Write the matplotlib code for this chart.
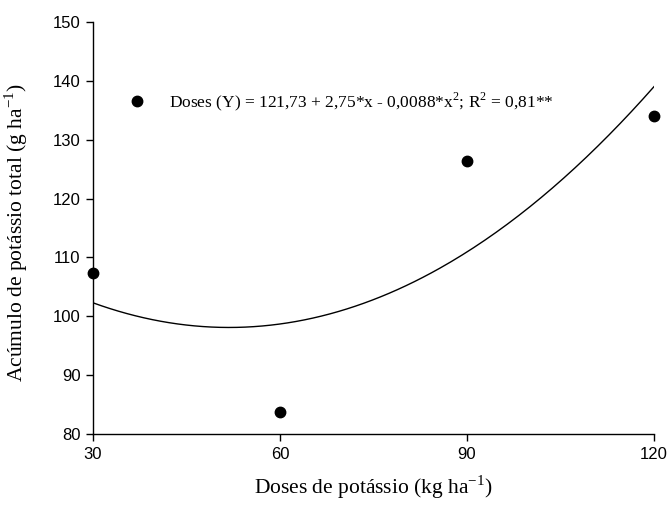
import numpy as np
import matplotlib
matplotlib.use("Agg")
import matplotlib.pyplot as plt

# dados
doses = [30, 60, 90, 120]
acumulo = [107.4, 83.8, 126.4, 134.0]

# coeficientes da curva desenhada (y = b0 + b1*x + b2*x^2)
b0, b1, b2 = 121.73, -0.912, 0.0088

x_ticks = [30, 60, 90, 120]
y_ticks = [80, 90, 100, 110, 120, 130, 140, 150]

legend_label = "Doses (Y) = 121,73 + 2,75*x - 0,0088*x$^{\\mathregular{2}}$; R$^{\\mathregular{2}}$ = 0,81**"

plt.rcParams["mathtext.fontset"] = "custom"
plt.rcParams["mathtext.rm"] = "Liberation Serif"

serif = {"family": "Liberation Serif"}

fig = plt.figure(figsize=(6.68, 5.16), dpi=100)
ax = fig.add_axes([0.1392, 0.1589, 0.8398, 0.7985])

x_fit = np.linspace(min(doses), max(doses), 200)
y_fit = b0 + b1 * x_fit + b2 * x_fit ** 2

ax.plot(x_fit, y_fit, color="black", linewidth=1.0)
ax.plot(doses, acumulo, "o", color="black", markersize=7.5, label=legend_label,
        clip_on=False, zorder=3)

ax.set_xlim(30, 120)
ax.set_ylim(80, 150)
ax.set_xticks(x_ticks)
ax.set_yticks(y_ticks)

for s in ["top", "right"]:
    ax.spines[s].set_visible(False)
for s in ["left", "bottom"]:
    ax.spines[s].set_linewidth(1.0)

ax.tick_params(direction="out", length=5, width=1.0, labelsize=12, pad=4)
for lbl in ax.get_xticklabels() + ax.get_yticklabels():
    lbl.set_fontfamily("Liberation Sans")

ax.set_xlabel("Doses de potássio (kg ha$^{\\mathregular{-1}}$)", fontdict=serif,
              fontsize=15.5)
ax.set_ylabel("Acúmulo de potássio total (g ha$^{\\mathregular{-1}}$)", fontdict=serif,
              fontsize=15.5)
ax.xaxis.set_label_coords(0.5, -0.095)
ax.yaxis.set_label_coords(-0.112, 0.49)

ax.legend(loc="center left", bbox_to_anchor=(0.045, 0.807), frameon=False,
          handlelength=1.2, handletextpad=1.2, borderpad=0,
          prop={"family": "Liberation Serif", "size": 12.5})

fig.savefig("out.png", dpi=100)
